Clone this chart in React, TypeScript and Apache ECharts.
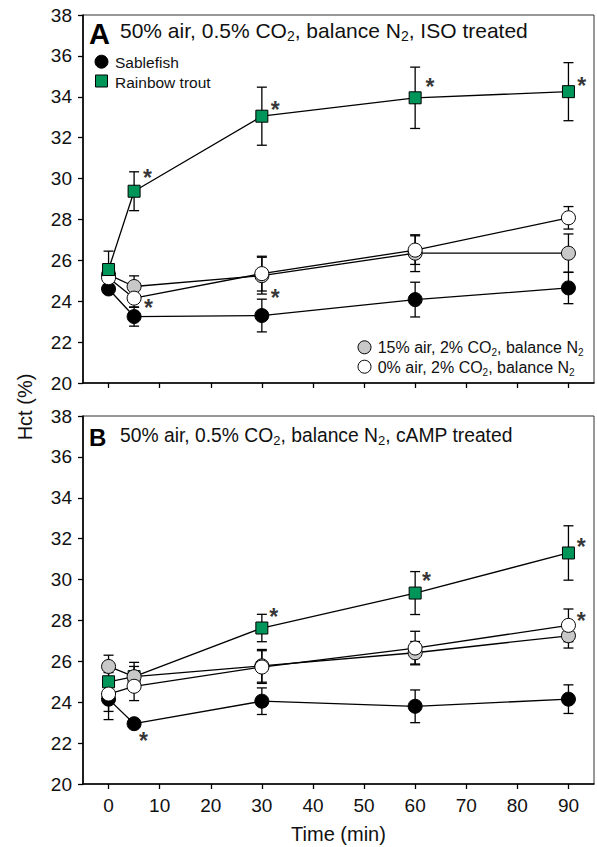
import React, { useEffect, useRef } from "react";
import * as echarts from "echarts";

// ---------- data ----------
const times = [0, 5, 30, 60, 90];
const xTicks = [0, 10, 20, 30, 40, 50, 60, 70, 80, 90];

// Panel A: ISO treated
const aSable = [24.6, 23.25, 23.3, 24.08, 24.65];
const aSableErr = [0.2, 0.47, 0.8, 0.85, 0.77];
const aTrout = [25.55, 29.38, 33.05, 33.95, 34.25];
const aTroutErr = [0.9, 0.95, 1.42, 1.5, 1.42];
const a15 = [25.3, 24.72, 25.25, 26.35, 26.35];
const a15Err = [0.5, 0.52, 0.9, 0.9, 0.94];
const a0 = [25.15, 24.15, 25.35, 26.5, 28.08];
const a0Err = [0.4, 0.45, 0.85, 0.7, 0.55];
const aStars = [[7.6, 30.3], [32.6, 33.66], [62.9, 34.76], [92.6, 34.8], [7.8, 23.96], [32.6, 24.45]];

// Panel B: cAMP treated
const bSable = [24.15, 22.95, 24.05, 23.8, 24.15];
const bSableErr = [1.0, 0.15, 0.65, 0.8, 0.7];
const bTrout = [25.0, 25.25, 27.63, 29.34, 31.3];
const bTroutErr = [0.45, 0.5, 0.67, 1.05, 1.33];
const b15 = [25.75, 25.25, 25.78, 26.42, 27.25];
const b15Err = [0.55, 0.7, 0.8, 0.55, 0.6];
const b0 = [24.4, 24.78, 25.72, 26.65, 27.76];
const b0Err = [0.85, 0.7, 0.8, 0.82, 0.8];
const bStars = [[6.85, 22.38], [32.3, 28.45], [62.2, 30.24], [92.5, 31.9], [92.5, 28.28]];

const FONT = "Liberation Sans";
const GREEN = "#00965a";
const GRAY = "#c8c8c8";

function errRender(params: any, api: any) {
  const x = api.value(0);
  const p1 = api.coord([x, api.value(1)]);
  const p2 = api.coord([x, api.value(2)]);
  const w = 5;
  const style = { stroke: "#000", lineWidth: 1.3 };
  return {
    type: "group",
    children: [
      { type: "line", shape: { x1: p1[0], y1: p1[1], x2: p2[0], y2: p2[1] }, style },
      { type: "line", shape: { x1: p1[0] - w, y1: p1[1], x2: p1[0] + w, y2: p1[1] }, style },
      { type: "line", shape: { x1: p2[0] - w, y1: p2[1], x2: p2[0] + w, y2: p2[1] }, style },
    ],
  };
}

function errSeries(idx: number, vals: number[], errs: number[]) {
  return {
    type: "custom",
    xAxisIndex: idx,
    yAxisIndex: idx,
    z: 1,
    silent: true,
    renderItem: errRender,
    encode: { x: 0, y: [1, 2] },
    data: times.map((t, i) => [t, vals[i] - errs[i], vals[i] + errs[i]]),
  };
}

function lineSeries(idx: number, name: string, vals: number[], symbol: string, size: number, fill: string) {
  return {
    type: "line",
    name,
    xAxisIndex: idx,
    yAxisIndex: idx,
    z: 2,
    symbol,
    symbolSize: size,
    showAllSymbol: true,
    lineStyle: { color: "#000", width: 1.3 },
    itemStyle: { color: fill, borderColor: "#000", borderWidth: 1 },
    data: times.map((t, i) => [t, vals[i]]),
  };
}

function starSeries(idx: number, pts: number[][]) {
  return {
    type: "scatter",
    xAxisIndex: idx,
    yAxisIndex: idx,
    z: 3,
    symbolSize: 1,
    itemStyle: { color: "rgba(0,0,0,0)" },
    label: {
      show: true,
      formatter: "*",
      position: "inside",
      fontSize: 23,
      fontWeight: "bold",
      fontFamily: FONT,
      color: "#000",
      offset: [0, 6],
    },
    data: pts,
  };
}

function xAxisCfg(idx: number, showLabels: boolean) {
  return {
    gridIndex: idx,
    type: "value",
    min: -5,
    max: 95,
    axisLine: { onZero: false, lineStyle: { color: "#000", width: 1.6 } },
    axisTick: { length: 5, customValues: xTicks, lineStyle: { color: "#000", width: 1.3 } },
    axisLabel: {
      show: showLabels,
      customValues: xTicks,
      fontSize: 19,
      fontFamily: FONT,
      color: "#111",
      margin: 12,
    },
    splitLine: { show: false },
    ...(showLabels
      ? {
          name: "Time (min)",
          nameLocation: "middle",
          nameGap: 40,
          nameTextStyle: { fontSize: 20, fontFamily: FONT, color: "#111" },
        }
      : {}),
  };
}

function yAxisCfg(idx: number) {
  return {
    gridIndex: idx,
    type: "value",
    min: 20,
    max: 38,
    interval: 2,
    axisLine: { onZero: false, lineStyle: { color: "#000", width: 1.6 } },
    axisTick: { length: 5, lineStyle: { color: "#000", width: 1.3 } },
    axisLabel: { fontSize: 19, fontFamily: FONT, color: "#111", margin: 11 },
    splitLine: { show: false },
  };
}

const richTitle = (size: number) => ({
  n: { fontSize: size, fontFamily: FONT, fill: "#111", lineHeight: size + 4 },
  s: { fontSize: Math.round(size * 0.65), fontFamily: FONT, fill: "#111", lineHeight: Math.round(size * 0.65), verticalAlign: "bottom" },
});

export default function App() {
  const ref = useRef<HTMLDivElement>(null);
  useEffect(() => {
    if (!ref.current) return;
    const chart = echarts.init(ref.current, null, { renderer: "svg" });
    const option: any = {
      animation: false,
      textStyle: { fontFamily: FONT },
      grid: [
        { left: 83, top: 15, width: 511, height: 368, show: true, borderColor: "#333", borderWidth: 1 },
        { left: 83, top: 416, width: 511, height: 368, show: true, borderColor: "#333", borderWidth: 1 },
      ],
      xAxis: [xAxisCfg(0, false), xAxisCfg(1, true)],
      yAxis: [yAxisCfg(0), yAxisCfg(1)],
      series: [
        errSeries(0, a15, a15Err),
        errSeries(0, aSable, aSableErr),
        errSeries(0, a0, a0Err),
        errSeries(0, aTrout, aTroutErr),
        lineSeries(0, "15% air", a15, "circle", 14, GRAY),
        lineSeries(0, "Sablefish", aSable, "circle", 14, "#000"),
        lineSeries(0, "0% air", a0, "circle", 14, "#fff"),
        lineSeries(0, "Rainbow trout", aTrout, "rect", 12, GREEN),
        starSeries(0, aStars),
        errSeries(1, bTrout, bTroutErr),
        errSeries(1, b15, b15Err),
        errSeries(1, bSable, bSableErr),
        errSeries(1, b0, b0Err),
        lineSeries(1, "Rainbow trout", bTrout, "rect", 12, GREEN),
        lineSeries(1, "15% air", b15, "circle", 14, GRAY),
        lineSeries(1, "Sablefish", bSable, "circle", 14, "#000"),
        lineSeries(1, "0% air", b0, "circle", 14, "#fff"),
        starSeries(1, bStars),
      ],
      graphic: [
        { type: "text", x: 89, y: 33.5, style: { text: "A", font: `bold 29px ${FONT}`, fill: "#000", verticalAlign: "middle" } },
        {
          type: "text",
          x: 120,
          y: 30,
          style: {
            text: "{n|50% air, 0.5% CO}{s|2}{n|, balance N}{s|2}{n|, ISO treated}",
            rich: richTitle(21),
            verticalAlign: "middle",
          },
        },
        { type: "text", x: 89, y: 437, style: { text: "B", font: `bold 24px ${FONT}`, fill: "#000", verticalAlign: "middle" } },
        {
          type: "text",
          x: 120,
          y: 435,
          style: {
            text: "{n|50% air, 0.5% CO}{s|2}{n|, balance N}{s|2}{n|, cAMP treated}",
            rich: richTitle(19.3),
            verticalAlign: "middle",
          },
        },
        // legend top-left
        { type: "circle", shape: { cx: 101.5, cy: 61.7, r: 6.5 }, style: { fill: "#000", stroke: "#000", lineWidth: 1 } },
        { type: "text", x: 115, y: 62, style: { text: "Sablefish", font: `15.5px ${FONT}`, fill: "#111", verticalAlign: "middle" } },
        { type: "rect", shape: { x: 95.5, y: 75, width: 12, height: 12 }, style: { fill: GREEN, stroke: "#000", lineWidth: 1 } },
        { type: "text", x: 115, y: 82, style: { text: "Rainbow trout", font: `15.5px ${FONT}`, fill: "#111", verticalAlign: "middle" } },
        // legend bottom-right
        { type: "circle", shape: { cx: 364.5, cy: 347.3, r: 6.5 }, style: { fill: GRAY, stroke: "#000", lineWidth: 1 } },
        {
          type: "text",
          x: 377.7,
          y: 347.5,
          style: { text: "{n|15% air, 2% CO}{s|2}{n|, balance N}{s|2}", rich: richTitle(16), verticalAlign: "middle" },
        },
        { type: "circle", shape: { cx: 364.5, cy: 366.7, r: 6.5 }, style: { fill: "#fff", stroke: "#000", lineWidth: 1 } },
        {
          type: "text",
          x: 377.7,
          y: 367,
          style: { text: "{n|0% air, 2% CO}{s|2}{n|, balance N}{s|2}", rich: richTitle(16), verticalAlign: "middle" },
        },
        // y axis title
        {
          type: "text",
          x: 25,
          y: 407,
          rotation: Math.PI / 2,
          style: { text: "Hct (%)", font: `20px ${FONT}`, fill: "#111", align: "center", verticalAlign: "middle" },
        },
      ],
    };
    chart.setOption(option);
    return () => chart.dispose();
  }, []);
  return <div ref={ref} style={{ position: "absolute", left: 0, top: 0, width: 597, height: 847 }} />;
}
